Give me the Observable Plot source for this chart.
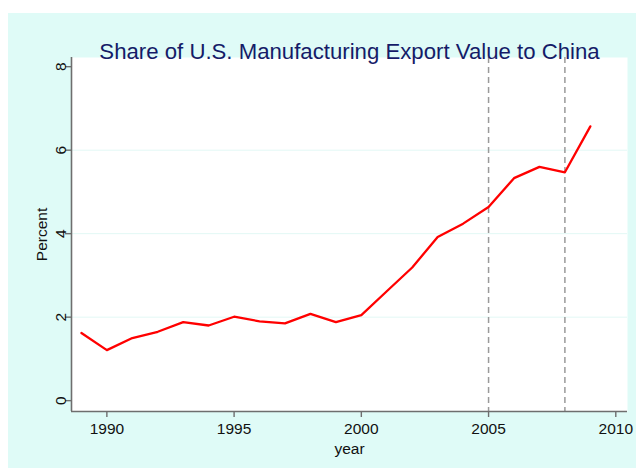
<!DOCTYPE html>
<html>
<head>
<meta charset="utf-8">
<script src="https://cdn.jsdelivr.net/npm/d3@7"></script>
<script src="https://cdn.jsdelivr.net/npm/@observablehq/plot@0.6"></script>
<style>
  html, body { margin: 0; padding: 0; background: #ffffff; }
  #chart { position: absolute; left: 8px; top: 13px; }
  #chart svg { background: #dffbf7; overflow: visible; display: block; }
</style>
</head>
<body>
<div id="chart"></div>
<script>
const years = [1989,1990,1991,1992,1993,1994,1995,1996,1997,1998,1999,2000,2001,2002,2003,2004,2005,2006,2007,2008,2009];
const shares = [1.62,1.21,1.50,1.65,1.88,1.80,2.01,1.90,1.85,2.08,1.88,2.05,2.62,3.19,3.92,4.24,4.64,5.33,5.60,5.47,6.57];
const markYears = [2005, 2008];
const xTicks = [1990, 1995, 2000, 2005, 2010];
const yTicks = [0, 2, 4, 6, 8];
const gridTicks = [2, 4, 6];
const title = "Share of U.S. Manufacturing Export Value to China";
const xLabel = "year";
const yLabel = "Percent";

const data = years.map((y, i) => ({year: y, share: shares[i]}));
const xDomain = [1988.61, 2010.46];
const yDomain = [-0.26, 8.22];
const font = "'Liberation Sans', Arial, Helvetica, sans-serif";

const chart = Plot.plot({
  width: 628,
  height: 455,
  marginLeft: 63,
  marginTop: 44,
  marginRight: 9,
  marginBottom: 57,
  style: {fontFamily: font, fontSize: "15px", background: "#dffbf7", overflow: "visible"},
  x: {domain: xDomain, axis: null},
  y: {domain: yDomain, axis: null},
  marks: [
    Plot.frame({fill: "white", stroke: null}),
    Plot.gridY(gridTicks, {stroke: "#e2f8f5", strokeOpacity: 1, strokeWidth: 1}),
    Plot.ruleX(markYears, {stroke: "#9a9a9a", strokeWidth: 1.5, strokeDasharray: "6,4"}),
    Plot.line(data, {x: "year", y: "share", stroke: "#ff0000", strokeWidth: 2.3}),
    Plot.ruleX([xDomain[0]], {stroke: "#6e6e6e", strokeWidth: 1.6}),
    Plot.ruleY([yDomain[0]], {stroke: "#6e6e6e", strokeWidth: 1.6}),
    Plot.axisX({ticks: xTicks, tickSize: 6, tickPadding: 5, fontSize: 15.5, label: null,
      stroke: "#6e6e6e", strokeWidth: 1.4, fill: "#111", tickFormat: d => String(d)}),
    Plot.axisY({ticks: yTicks, tickSize: 6, label: null, stroke: "#6e6e6e", strokeWidth: 1.4,
      tickFormat: () => ""}),
    Plot.text(yTicks, {y: d => d, frameAnchor: "left", dx: -6, rotate: -90,
      textAnchor: "middle", lineAnchor: "bottom", fontSize: 15.5, fill: "#111", text: d => String(d)}),
    Plot.text([title], {frameAnchor: "top", dy: 1, lineAnchor: "bottom", fontSize: 22.2,
      fill: "#151b68", text: d => d}),
    Plot.text([xLabel], {frameAnchor: "bottom", dy: 42, lineAnchor: "bottom", fontSize: 15.5,
      fill: "#111", text: d => d}),
    Plot.text([yLabel], {frameAnchor: "left", dx: -24.5, rotate: -90, textAnchor: "middle",
      lineAnchor: "bottom", fontSize: 15.5, fill: "#111", text: d => d})
  ]
});
document.getElementById("chart").appendChild(chart);
</script>
</body>
</html>
